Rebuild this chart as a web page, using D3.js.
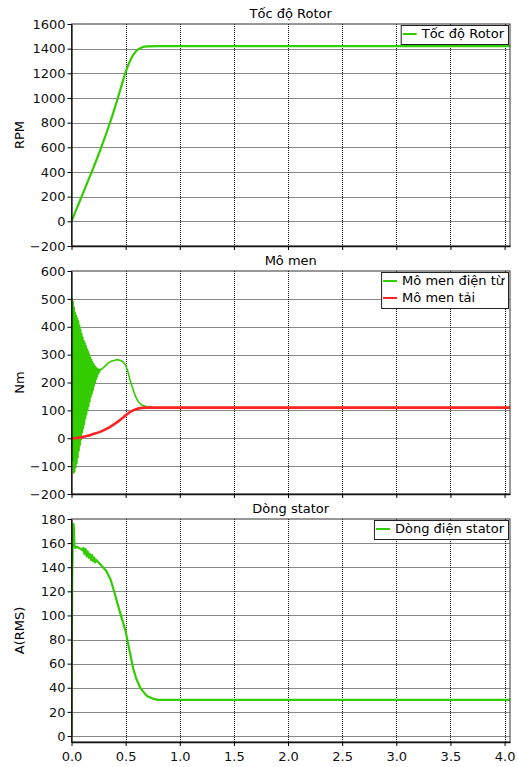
<!DOCTYPE html>
<html>
<head>
<meta charset="utf-8">
<script src="https://cdn.jsdelivr.net/npm/d3@7"></script>
<style>
  body { margin: 0; background: #fff; }
  text { font-family: "DejaVu Sans", Verdana, sans-serif; }
</style>
</head>
<body>
<svg id="chart" width="518" height="767"></svg>
<script>
// time axis
const timeTicks = [0, 0.5, 1.0, 1.5, 2.0, 2.5, 3.0, 3.5, 4.0];
const timeMax = 4.05;

// panel 1: rotor speed (RPM)
const speedTicks = [-200, 0, 200, 400, 600, 800, 1000, 1200, 1400, 1600];
const speed = [
  [0, 0], [0.05, 107], [0.1, 215], [0.15, 322], [0.2, 430], [0.25, 542], [0.3, 660],
  [0.35, 785], [0.4, 920], [0.45, 1065], [0.5, 1210], [0.55, 1318], [0.6, 1383],
  [0.65, 1410], [0.7, 1418], [0.8, 1420], [4.05, 1420]
];

// panel 2: electromagnetic torque and load torque (Nm)
const torqueTicks = [-200, -100, 0, 100, 200, 300, 400, 500, 600];
const torqueEm = [
  [0, 0], [0.005, 500], [0.01, -80], [0.015, 490], [0.02, -125], [0.025, 470], [0.03, -120],
  [0.035, 452], [0.04, -105], [0.045, 440], [0.05, -90], [0.055, 430], [0.06, -70],
  [0.065, 420], [0.07, -45], [0.075, 405], [0.08, -25], [0.085, 390], [0.09, -5],
  [0.095, 375], [0.10, 20], [0.105, 362], [0.11, 35], [0.115, 350], [0.12, 50],
  [0.125, 342], [0.13, 70], [0.135, 332], [0.14, 85], [0.145, 320], [0.15, 100],
  [0.155, 312], [0.16, 115], [0.165, 302], [0.17, 132], [0.175, 290], [0.18, 148],
  [0.185, 282], [0.19, 160], [0.195, 274], [0.20, 172], [0.205, 267], [0.21, 188],
  [0.215, 260], [0.22, 200], [0.225, 255], [0.23, 212], [0.235, 251], [0.24, 222],
  [0.245, 248], [0.25, 232], [0.255, 247], [0.26, 239], [0.265, 246], [0.27, 245],
  [0.30, 255], [0.33, 267], [0.36, 275], [0.40, 280], [0.43, 282], [0.46, 278],
  [0.48, 272], [0.50, 262], [0.52, 240], [0.54, 210], [0.56, 185], [0.58, 162],
  [0.60, 143], [0.62, 130], [0.64, 122], [0.66, 117], [0.70, 113], [0.75, 111],
  [0.80, 110], [4.05, 110]
];
const torqueLoad = [
  [0, 0], [0.05, 1], [0.1, 4], [0.15, 9], [0.2, 15], [0.25, 21], [0.3, 29], [0.35, 39],
  [0.4, 52], [0.45, 66], [0.5, 82], [0.55, 96], [0.6, 105], [0.65, 109], [0.7, 110],
  [4.05, 110]
];

// panel 3: stator current (A RMS)
const currentTicks = [0, 20, 40, 60, 80, 100, 120, 140, 160, 180];
const current = [
  [0, 0], [0.006, 130], [0.012, 168], [0.018, 176], [0.022, 172], [0.027, 158],
  [0.035, 156], [0.05, 157], [0.07, 156], [0.09, 155], [0.10, 154], [0.11, 156],
  [0.12, 151], [0.13, 155], [0.14, 149], [0.15, 153], [0.16, 148], [0.17, 151],
  [0.18, 146], [0.19, 150], [0.20, 145], [0.21, 148], [0.22, 144], [0.23, 146],
  [0.25, 144], [0.28, 141], [0.32, 137], [0.36, 130], [0.40, 118], [0.44, 105],
  [0.48, 93], [0.50, 87], [0.52, 78], [0.54, 69], [0.57, 56], [0.60, 47], [0.63, 41],
  [0.66, 37], [0.70, 33], [0.75, 31], [0.80, 30], [4.05, 30]
];

const GREEN = "#33cc00", RED = "#ff2222";

const svg = d3.select("#chart"),
    left = 71.5, right = 510;

const x = d3.scaleLinear().domain([0, timeMax]).range([left, right]);

const panels = [
  { title: "Tốc độ Rotor", ylabel: "RPM", top: 24, bottom: 246, domain: [-200, 1600],
    ticks: speedTicks, xlabels: false,
    series: [{ name: "Tốc độ Rotor", data: speed, color: GREEN, curve: d3.curveMonotoneX }] },
  { title: "Mô men", ylabel: "Nm", top: 271, bottom: 494, domain: [-200, 600],
    ticks: torqueTicks, xlabels: false,
    series: [
      { name: "Mô men điện từ", data: torqueEm, color: GREEN, curve: d3.curveLinear, width: 1.6 },
      { name: "Mô men tải", data: torqueLoad, color: RED, curve: d3.curveMonotoneX, width: 2.6 }
    ] },
  { title: "Dòng stator", ylabel: "A(RMS)", top: 519, bottom: 742, domain: [-5, 180],
    ticks: currentTicks, xlabels: true,
    series: [{ name: "Dòng điện stator", data: current, color: GREEN, curve: d3.curveLinear }] }
];

panels.forEach(p => {
  const y = d3.scaleLinear().domain(p.domain).range([p.bottom, p.top]);
  const g = svg.append("g");

  // title
  g.append("text")
    .attr("x", (left + right) / 2)
    .attr("y", p.top - 6)
    .attr("text-anchor", "middle")
    .style("font-size", "13px")
    .text(p.title);

  // y label
  g.append("text")
    .attr("transform", `translate(24,${(p.top + p.bottom) / 2}) rotate(-90)`)
    .attr("text-anchor", "middle")
    .style("font-size", "13px")
    .text(p.ylabel);

  // grid
  g.append("g").selectAll("line.h")
    .data(p.ticks.filter(t => t > p.domain[0] && t < p.domain[1]))
    .join("line")
    .attr("x1", left).attr("x2", right)
    .attr("y1", d => Math.round(y(d)) + 0.5).attr("y2", d => Math.round(y(d)) + 0.5)
    .attr("stroke", "#111").attr("stroke-dasharray", "1,1");
  g.append("g").selectAll("line.v")
    .data(timeTicks.filter(t => t > 0))
    .join("line")
    .attr("x1", d => Math.round(x(d)) + 0.5).attr("x2", d => Math.round(x(d)) + 0.5)
    .attr("y1", p.top).attr("y2", p.bottom)
    .attr("stroke", "#111").attr("stroke-dasharray", "1,1");

  // lines
  const clipId = "clip" + p.top;
  svg.append("clipPath").attr("id", clipId)
    .append("rect").attr("x", left).attr("y", p.top)
    .attr("width", right - left).attr("height", p.bottom - p.top);

  p.series.forEach(s => {
    const line = d3.line().x(d => x(d[0])).y(d => y(d[1])).curve(s.curve);
    g.append("path")
      .datum(s.data)
      .attr("clip-path", `url(#${clipId})`)
      .attr("fill", "none")
      .attr("stroke", s.color)
      .attr("stroke-width", s.width || 2.2)
      .attr("stroke-linejoin", "round")
      .attr("d", line);
  });

  // frame
  g.append("rect")
    .attr("x", left).attr("y", p.top)
    .attr("width", right - left).attr("height", p.bottom - p.top)
    .attr("fill", "none").attr("stroke", "#333").attr("stroke-width", 1);

  // y axis
  const ya = g.append("g")
    .attr("transform", `translate(${left},0)`)
    .call(d3.axisLeft(y).tickValues(p.ticks).tickSize(4).tickPadding(2).tickSizeOuter(0)
      .tickFormat(d3.format("d")));
  ya.selectAll("text").style("font-family", "DejaVu Sans").style("font-size", "13px").attr("fill", "#111");
  ya.select(".domain").attr("stroke", "#111").attr("stroke-width", 1.3);

  // x axis
  const xa = g.append("g")
    .attr("transform", `translate(0,${p.bottom})`)
    .call(d3.axisBottom(x).tickValues(timeTicks).tickSize(4).tickPadding(6).tickSizeOuter(0)
      .tickFormat(p.xlabels ? d3.format(".1f") : ""));
  xa.selectAll("text").style("font-family", "DejaVu Sans").style("font-size", "13px").attr("fill", "#111");
  xa.select(".domain").attr("stroke", "#111").attr("stroke-width", 1.3);

  // legend
  const rowH = 17;
  const lg = g.append("g");
  const box = lg.append("rect")
    .attr("fill", "#fff").attr("stroke", "#222").attr("stroke-width", 1);
  const texts = p.series.map((s, i) =>
    lg.append("text")
      .attr("y", p.top + 14 + i * rowH)
      .style("font-size", "13px")
      .text(s.name));
  const tw = d3.max(texts, t => t.node().getComputedTextLength());
  const bw = tw + 25, bx = right - 2 - bw;
  box.attr("x", bx + 0.5).attr("y", p.top + 1.5)
    .attr("width", bw).attr("height", p.series.length * rowH + 2);
  texts.forEach(t => t.attr("x", bx + 21));
  p.series.forEach((s, i) => {
    lg.append("line")
      .attr("x1", bx + 2).attr("x2", bx + 16)
      .attr("y1", p.top + 10 + i * rowH).attr("y2", p.top + 10 + i * rowH)
      .attr("stroke", s.color).attr("stroke-width", 2);
  });
});
</script>
</body>
</html>
